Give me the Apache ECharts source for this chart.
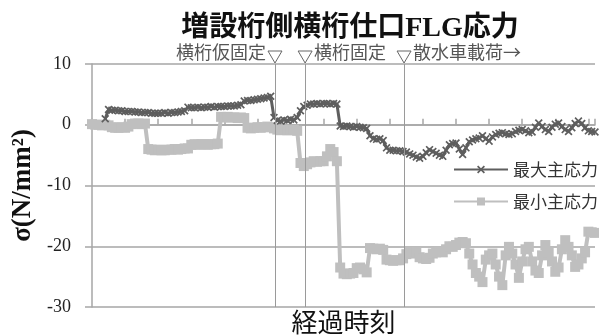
<!DOCTYPE html>
<html>
<head>
<meta charset="utf-8">
<script src="https://cdn.jsdelivr.net/npm/echarts@6/dist/echarts.min.js"></script>
<style>
html, body { margin: 0; padding: 0; background: #fff; }
#chart { width: 599px; height: 336px; }
</style>
</head>
<body>
<div id="chart"></div>
<script>
// 最大主応力 (N/mm2), one value per time step
const maxStress = [
    null, null, null, null, 1.0, 2.5, 2.4, 2.4, 2.3, 2.3,
    2.2, 2.2, 2.2, 2.1, 2.1, 2.0, 2.0, 2.0, 1.9, 1.9,
    1.9, 1.9, 2.0, 1.9, 2.0, 2.0, 2.1, 2.2, 2.3, 2.9,
    2.8, 2.8, 2.9, 2.8, 2.9, 2.9, 3.0, 2.9, 3.0, 3.0,
    3.0, 3.1, 3.1, 3.1, 3.2, 3.3, 3.9, 4.0, 4.0, 4.1,
    4.2, 4.3, 4.4, 4.5, 4.7, 1.2, 0.7, 0.6, 0.8, 0.7,
    0.9, 0.8, 1.2, 2.3, 3.0, 3.2, 3.4, 3.4, 3.5, 3.4,
    3.5, 3.5, 3.4, 3.5, 3.4, -0.2, -0.3, -0.2, -0.3, -0.4,
    -0.3, -0.4, -0.5, -0.6, -1.8, -2.3, -2.4, -2.3, -2.6, -3.8,
    -4.2, -4.2, -4.3, -4.3, -4.4, -4.5, -4.8, -5.0, -5.3, -5.5,
    -5.2, -4.6, -4.1, -4.4, -4.7, -5.0, -5.2, -4.2, -3.3, -3.1,
    -3.0, -4.0, -4.9, -3.8, -2.8, -2.5, -2.3, -2.2, -1.8, -2.3,
    -2.7, -2.0, -1.6, -1.4, -1.3, -1.5, -1.6, -1.5, -1.1, -0.9,
    -0.8, -1.0, -1.3, -1.2, -0.4, 0.3, -0.3, -0.8, -1.1, -0.4,
    0.1, 0.3, -0.3, -0.8, -1.1, -0.5, 0.2, 0.6, 0.2, -0.5,
    -1.0, -1.1, -1.2
];

// 最小主応力 (N/mm2)
const minStress = [
    0.1, 0.0, 0.0, -0.1, 0.0, -0.1, -0.4, -0.5, -0.5, -0.4,
    -0.5, -0.3, 0.1, 0.2, 0.2, 0.1, 0.2, -4.0, -4.1, -4.2,
    -4.1, -4.2, -4.2, -4.1, -4.1, -4.0, -4.1, -4.0, -3.9, -3.9,
    -3.3, -3.2, -3.3, -3.2, -3.2, -3.3, -3.2, -3.2, -3.1, 1.3,
    1.2, 1.3, 1.2, 1.2, 1.1, 1.2, 1.1, -0.5, -0.6, -0.5,
    -0.4, -0.5, -0.4, -0.3, -0.4, -0.6, -0.8, -0.9, -0.8, -0.9,
    -0.9, -0.8, -1.0, -6.3, -6.8, -6.5, -6.2, -6.0, -6.1, -6.0,
    -6.0, -5.2, -4.0, -4.5, -6.0, -23.5, -24.5, -24.6, -24.5, -24.4,
    -23.6, -23.5, -23.8, -24.3, -20.3, -20.4, -20.5, -20.4, -20.6, -22.2,
    -22.3, -22.4, -22.3, -22.3, -22.0, -21.3, -21.0, -21.2, -21.0, -21.8,
    -22.0, -22.1, -21.9, -21.2, -21.0, -20.9, -21.0, -20.5, -20.0, -20.1,
    -19.8, -19.4, -19.3, -19.5, -21.2, -23.0, -24.4, -25.0, -25.9, -22.2,
    -21.5, -21.2, -23.0, -25.0, -26.4, -21.5, -20.1, -21.2, -23.0, -25.2,
    -22.5, -20.5, -20.1, -22.5, -24.0, -24.4, -21.5, -19.8, -21.0, -22.5,
    -24.2, -23.5, -20.5, -19.0, -20.1, -21.5, -23.4, -23.0, -22.0, -21.0,
    -17.6, -17.7, -17.8
];

// event markers on the time axis
const eventTimes = [55.3, 64.4, 94.3];
const eventLabels = ['横桁仮固定', '横桁固定', '散水車載荷→'];
const eventSides = ['left', 'right', 'right'];

const yTicks = [-30, -20, -10, 0, 10];

const serif = "'Liberation Serif', 'Noto Sans CJK JP', serif";
const cjk = "'Noto Sans CJK JP', sans-serif";
const gridColor = '#a6a6a6';
const darkColor = '#5e5e5e';
const lightColor = '#bfbfbf';
const crossIcon = 'path://M0,1.5L1.5,0L5,3.5L8.5,0L10,1.5L6.5,5L10,8.5L8.5,10L5,6.5L1.5,10L0,8.5L3.5,5Z';

const toPairs = arr => arr.map((v, i) => [i, v]);

const chart = echarts.init(document.getElementById('chart'));

chart.setOption({
    animation: false,
    title: {
        text: '増設桁側横桁仕口FLG応力',
        left: 345,
        textAlign: 'center',
        top: 10,
        textStyle: {
            fontFamily: serif,
            fontSize: 28,
            fontWeight: 'bold',
            color: '#111'
        }
    },
    legend: {
        orient: 'vertical',
        left: 448,
        top: 156,
        itemWidth: 54,
        itemHeight: 10,
        itemGap: 15,
        data: ['最大主応力', '最小主応力'],
        textStyle: {
            fontFamily: cjk,
            fontSize: 17,
            color: '#333'
        }
    },
    grid: {
        left: 92,
        right: 4,
        top: 64,
        bottom: 29,
        outerBoundsMode: 'none'
    },
    xAxis: {
        type: 'value',
        min: 0,
        max: maxStress.length - 1,
        interval: 10,
        name: '経過時刻',
        nameLocation: 'middle',
        nameGap: 2,
        nameTextStyle: {
            fontFamily: cjk,
            fontSize: 26,
            color: '#111',
            verticalAlign: 'top'
        },
        axisLine: { lineStyle: { color: gridColor, width: 1.5 } },
        axisTick: { inside: true, length: 6, lineStyle: { color: gridColor, width: 1.5 } },
        axisLabel: { show: false },
        splitLine: { show: false }
    },
    yAxis: {
        type: 'value',
        min: yTicks[0],
        max: yTicks[yTicks.length - 1],
        interval: 10,
        name: 'σ(N/mm²)',
        nameLocation: 'middle',
        nameGap: 50,
        nameTextStyle: {
            fontFamily: serif,
            fontSize: 27,
            fontWeight: 'bold',
            color: '#111'
        },
        axisLine: { show: true, lineStyle: { color: gridColor, width: 1.5 } },
        axisTick: { show: true, length: 7, lineStyle: { color: gridColor, width: 1.5 } },
        axisLabel: {
            margin: 21,
            fontFamily: serif,
            fontSize: 18,
            color: '#222'
        },
        splitLine: { lineStyle: { color: gridColor, width: 1.5 } }
    },
    series: [{
        name: '最小主応力',
        type: 'line',
        data: toPairs(minStress),
        symbol: 'rect',
        symbolSize: 10,
        color: lightColor,
        lineStyle: { color: lightColor, width: 4 },
        itemStyle: { color: lightColor },
        markLine: {
            silent: true,
            symbol: 'none',
            label: { show: false },
            lineStyle: { color: '#9a9a9a', width: 1, type: 'solid' },
            data: eventTimes.map(t => ({ xAxis: t }))
        }
    }, {
        name: '最大主応力',
        type: 'line',
        data: toPairs(maxStress),
        symbol: crossIcon,
        symbolSize: 8,
        color: darkColor,
        lineStyle: { color: darkColor, width: 3 },
        itemStyle: { color: darkColor }
    }]
});

// event labels with ▽ marks above the plot
const graphics = [];
eventTimes.forEach((t, i) => {
    const px = chart.convertToPixel({ xAxisIndex: 0 }, t);
    graphics.push({
        type: 'polygon',
        shape: { points: [[px - 7, 51], [px + 7, 51], [px, 63]] },
        style: { fill: '#fff', stroke: '#666', lineWidth: 1 }
    });
    graphics.push({
        type: 'text',
        x: eventSides[i] === 'left' ? px - 9 : px + 9,
        y: 52,
        style: {
            text: eventLabels[i],
            font: '18px ' + cjk,
            fill: '#555',
            align: eventSides[i] === 'left' ? 'right' : 'left',
            verticalAlign: 'middle'
        }
    });
});
chart.setOption({ graphic: graphics });
</script>
</body>
</html>
